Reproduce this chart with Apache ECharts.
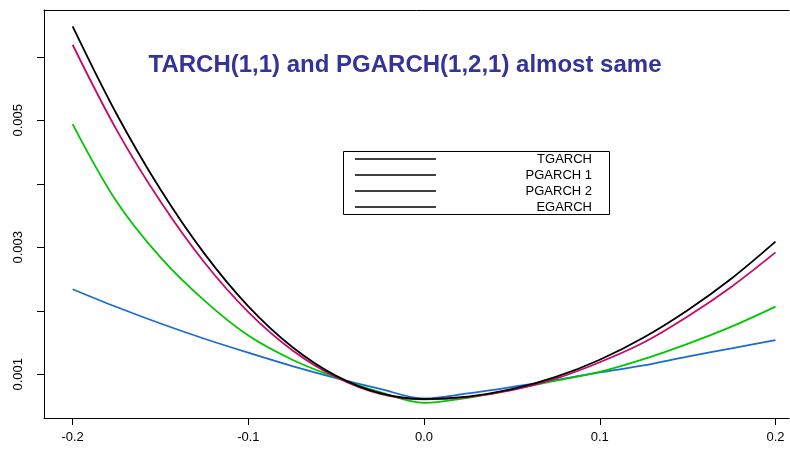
<!DOCTYPE html>
<html>
<head>
<meta charset="utf-8">
<script src="https://cdn.jsdelivr.net/npm/echarts@6/dist/echarts.min.js"></script>
<style>html,body{margin:0;padding:0;background:#fff}#c{width:790px;height:452px}</style>
</head>
<body>
<div id="c"></div>
<script>
const shocks = [-0.2,-0.175,-0.15,-0.125,-0.1,-0.075,-0.05,-0.025,0,0.025,0.05,0.075,0.1,0.125,0.15,0.175,0.2];
const tgarch  = [0.00648,0.00510,0.00391,0.00290,0.00207,0.00143,0.000975,0.000702,0.00061,0.000649,0.000765,0.000958,0.00123,0.00158,0.00201,0.00251,0.00309];
const pgarch1 = [0.00619,0.00485,0.00372,0.00276,0.00198,0.00138,0.000955,0.000693,0.000606,0.000642,0.000751,0.000932,0.00119,0.00150,0.00191,0.00238,0.00292];
const pgarch2 = [0.00494,0.00372,0.00284,0.00216,0.00161,0.00123,0.00095,0.00072,0.00055,0.00063,0.00076,0.00090,0.00104,0.00124,0.00148,0.00175,0.002065];
const egarch  = [0.00234,0.00206,0.00180,0.00156,0.00134,0.00113,0.00094,0.00077,0.00062,0.00070,0.00080,0.00091,0.00103,0.00114,0.00128,0.00141,0.00154];
const xTicks = [-0.2,-0.1,0,0.1,0.2];
const yTicks = [0.001,0.002,0.003,0.004,0.005,0.006];
const yLabels = [0.001,0.003,0.005];
const seriesNames = ['TGARCH','PGARCH 1','PGARCH 2','EGARCH'];
const title = 'TARCH(1,1) and PGARCH(1,2,1) almost same';

const colors = ['#000000','#c8086a','#00c800','#1a6cd0'];
const datasets = [tgarch,pgarch1,pgarch2,egarch];
const font = "'Liberation Sans', Arial, sans-serif";

const chart = echarts.init(document.getElementById('c'), null, {renderer:'canvas'});
const legendRows = seriesNames.map((n,i)=>[
  {type:'line', shape:{x1:355,y1:159+16*i,x2:436,y2:159+16*i}, style:{stroke:'#000',lineWidth:1.5}},
  {type:'text', x:592, y:159+16*i, style:{text:n, font:'13px '+font, fill:'#000', textAlign:'right', textVerticalAlign:'middle'}}
]).flat();

const XMIN = -0.2163, XMAX = 0.2077;
chart.setOption({
  animation:false,
  backgroundColor:'#fff',
  grid:{left:44, top:10, width:745, height:408, show:false},
  xAxis:[{type:'value', min:XMIN, max:XMAX,
    axisLine:{show:true, onZero:false, lineStyle:{color:'#000', width:1}},
    axisTick:{show:true, customValues:xTicks, length:7, lineStyle:{color:'#000'}},
    axisLabel:{customValues:xTicks, margin:13, color:'#000', fontSize:13, fontFamily:font, formatter:v=>v.toFixed(1)},
    splitLine:{show:false}},
    {type:'value', position:'top', min:XMIN, max:XMAX,
    axisLine:{show:true, onZero:false, lineStyle:{color:'#000', width:1}},
    axisTick:{show:false}, axisLabel:{show:false}, splitLine:{show:false}}],
  yAxis:{type:'value', min:0.000312, max:0.006737,
    axisLine:{show:true, onZero:false, lineStyle:{color:'#000', width:1}},
    axisTick:{show:true, customValues:yTicks, length:7, lineStyle:{color:'#000'}},
    axisLabel:{customValues:yLabels, rotate:90, margin:19, color:'#000', fontSize:13, fontFamily:font, formatter:v=>v.toFixed(3)},
    splitLine:{show:false}},
  series: datasets.map((d,i)=>({
    name:seriesNames[i], type:'line', showSymbol:false, smooth:0.35, z:10-i,
    lineStyle:{color:colors[i], width:1.8},
    data: shocks.map((x,j)=>[x,d[j]])
  })),
  graphic:[
    {type:'text', x:405, y:65, style:{text:title, font:'bold 24px '+font, fill:'#333399', textAlign:'center', textVerticalAlign:'middle'}},
    {type:'rect', shape:{x:343.5,y:151.5,width:266,height:63}, style:{fill:'#fff', stroke:'#000', lineWidth:1}, z:100},
    ...legendRows.map(e=>Object.assign(e,{z:101}))
  ]
});
</script>
</body>
</html>
